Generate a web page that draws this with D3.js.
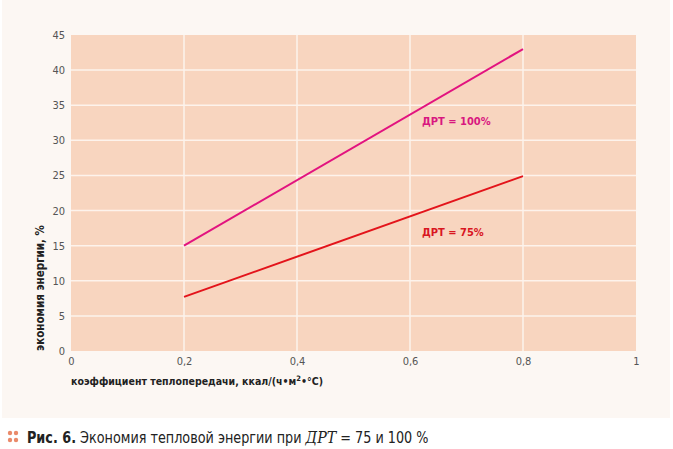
<!DOCTYPE html>
<html>
<head>
<meta charset="utf-8">
<script src="https://cdn.jsdelivr.net/npm/d3@7"></script>
<style>
  body { margin: 0; padding: 0; background: #fff; }
  svg { display: block; }
</style>
</head>
<body>
<script>
const xTicks = [0, 0.2, 0.4, 0.6, 0.8, 1]
const yTicks = [0, 5, 10, 15, 20, 25, 30, 35, 40, 45]
const kValues = [0.2, 0.8]
const drt100 = [15, 43]
const drt75 = [7.7, 24.9]

const width = 673
const height = 449
const margin = {top: 35, right: 37, bottom: 98, left: 71}

const svg = d3.select("body").append("svg")
  .attr("width", width)
  .attr("height", height)

// page panel
svg.append("rect")
  .attr("x", 2).attr("y", 0)
  .attr("width", 668).attr("height", 418)
  .attr("fill", "#fcf7f3")

const x = d3.scaleLinear().domain([0, 1]).range([margin.left, width - margin.right])
const y = d3.scaleLinear().domain([0, 45]).range([height - margin.bottom, margin.top])

svg.append("rect")
  .attr("x", x(0)).attr("y", y(45))
  .attr("width", x(1) - x(0)).attr("height", y(0) - y(45))
  .attr("fill", "#f8d5bf")

// grid
svg.append("g")
  .selectAll("line")
  .data(yTicks.filter(d => d > 0 && d < 45))
  .join("line")
  .attr("x1", x(0)).attr("x2", x(1))
  .attr("y1", d => y(d)).attr("y2", d => y(d))
  .attr("stroke", "#fdf3ec").attr("stroke-width", 1.5)

svg.append("g")
  .selectAll("line")
  .data(xTicks.filter(d => d > 0 && d < 1))
  .join("line")
  .attr("x1", d => x(d)).attr("x2", d => x(d))
  .attr("y1", y(0)).attr("y2", y(45))
  .attr("stroke", "#fdf3ec").attr("stroke-width", 1.5)

const tickFont = "'DejaVu Sans Condensed', sans-serif"

const yAxis = svg.append("g")
  .attr("transform", `translate(${x(0)},0)`)
  .call(d3.axisLeft(y).tickValues(yTicks).tickSize(0).tickPadding(6))
yAxis.select(".domain").remove()
yAxis.selectAll("text")
  .attr("font-family", tickFont).attr("font-size", 11).attr("fill", "#555")

const fmt = d => String(d).replace(".", ",")
const xAxis = svg.append("g")
  .attr("transform", `translate(0,${y(0)})`)
  .call(d3.axisBottom(x).tickValues(xTicks).tickFormat(fmt).tickSize(0).tickPadding(6))
xAxis.select(".domain").remove()
xAxis.selectAll("text")
  .attr("font-family", tickFont).attr("font-size", 11).attr("fill", "#555")

// lines
const line = d3.line().x((d, i) => x(kValues[i])).y(d => y(d))
svg.append("path").datum(drt100)
  .attr("d", line).attr("fill", "none")
  .attr("stroke", "#e2137f").attr("stroke-width", 2)
svg.append("path").datum(drt75)
  .attr("d", line).attr("fill", "none")
  .attr("stroke", "#e3141b").attr("stroke-width", 2)

const boldFont = "'DejaVu Sans Condensed', sans-serif"

svg.append("text")
  .attr("x", 422).attr("y", 125)
  .attr("font-family", boldFont).attr("font-weight", "bold").attr("font-size", 11)
  .attr("fill", "#d8177f").text("ДРТ = 100%")
svg.append("text")
  .attr("x", 422).attr("y", 236)
  .attr("font-family", boldFont).attr("font-weight", "bold").attr("font-size", 11)
  .attr("fill", "#d9161f").text("ДРТ = 75%")

// axis titles
svg.append("text")
  .attr("transform", `translate(44,${y(0)}) rotate(-90)`)
  .attr("font-family", boldFont).attr("font-weight", "bold").attr("font-size", 11.5)
  .attr("fill", "#222").text("экономия энергии, %")

const xt = svg.append("text")
  .attr("x", x(0)).attr("y", 385)
  .attr("font-family", boldFont).attr("font-weight", "bold").attr("font-size", 10.5)
  .attr("fill", "#222")
xt.append("tspan").text("коэффициент теплопередачи, ккал/(ч•м")
xt.append("tspan").attr("font-size", 7.5).attr("dy", -4).text("2")
xt.append("tspan").attr("dy", 4).text("•°С)")

// caption
const dots = [[10, 433], [16, 433], [10, 440], [16, 440]]
svg.append("g").selectAll("circle").data(dots).join("circle")
  .attr("cx", d => d[0]).attr("cy", d => d[1]).attr("r", 2.2)
  .attr("fill", "#ea8a6a")

const cap = svg.append("g")
  .attr("transform", "translate(27,443) scale(0.89,1)")
  .append("text")
  .attr("font-family", tickFont).attr("font-size", 16).attr("fill", "#222")
cap.append("tspan").attr("font-weight", "bold").text("Рис. 6.")
cap.append("tspan").text(" Экономия тепловой энергии при ")
cap.append("tspan").attr("font-family", "'DejaVu Serif', serif").attr("font-style", "italic").text("ДРТ")
cap.append("tspan").text(" = 75 и 100 %")
</script>
</body>
</html>
